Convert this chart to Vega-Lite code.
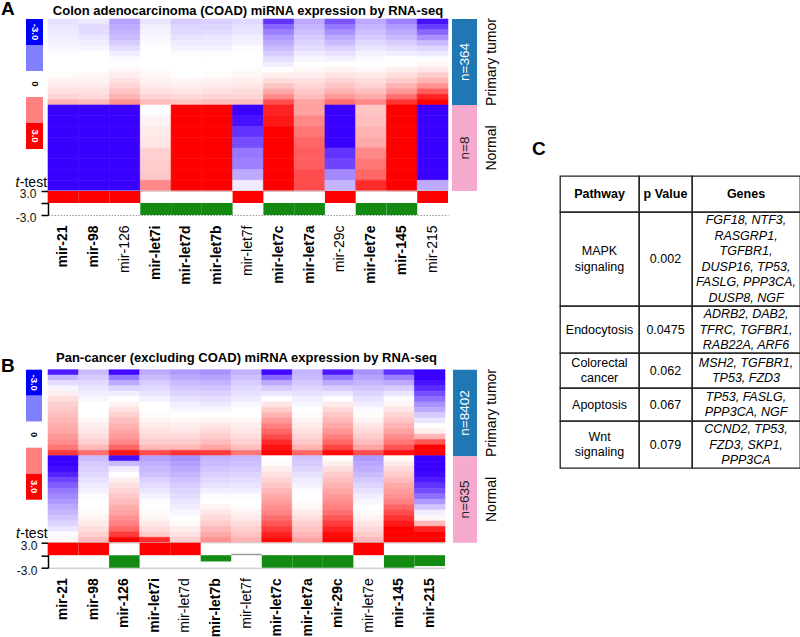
{
"$schema": "https://vega.github.io/schema/vega-lite/v6.json",
"background": "white",
"padding": {"left": 1, "top": 0, "right": 1, "bottom": 1},
"config": {"view": {"stroke": null}, "font": "Liberation Sans", "axis": {"labelFont": "Liberation Sans", "titleFont": "Liberation Sans", "grid": false}, "title": {"font": "Liberation Sans", "color": "black"}, "text": {"font": "Liberation Sans"}},
"datasets": {
"A_T": [
{"m":"mir-21","r":0,"v":-0.35},{"m":"mir-21","r":1,"v":-0.3},{"m":"mir-21","r":2,"v":-0.25},{"m":"mir-21","r":3,"v":-0.2},{"m":"mir-21","r":4,"v":-0.15},{"m":"mir-21","r":5,"v":-0.1},{"m":"mir-21","r":6,"v":-0.05},{"m":"mir-21","r":7,"v":0},{"m":"mir-21","r":8,"v":0},{"m":"mir-21","r":9,"v":0},{"m":"mir-21","r":10,"v":0.05},{"m":"mir-21","r":11,"v":0.15},{"m":"mir-21","r":12,"v":0.25},{"m":"mir-21","r":13,"v":0.35},{"m":"mir-21","r":14,"v":0.5},{"m":"mir-21","r":15,"v":0.9},
{"m":"mir-98","r":0,"v":-0.25},{"m":"mir-98","r":1,"v":-0.45},{"m":"mir-98","r":2,"v":-0.4},{"m":"mir-98","r":3,"v":-0.3},{"m":"mir-98","r":4,"v":-0.2},{"m":"mir-98","r":5,"v":-0.1},{"m":"mir-98","r":6,"v":0},{"m":"mir-98","r":7,"v":0},{"m":"mir-98","r":8,"v":0},{"m":"mir-98","r":9,"v":0},{"m":"mir-98","r":10,"v":0.1},{"m":"mir-98","r":11,"v":0.15},{"m":"mir-98","r":12,"v":0.25},{"m":"mir-98","r":13,"v":0.35},{"m":"mir-98","r":14,"v":0.45},{"m":"mir-98","r":15,"v":0.8},
{"m":"mir-126","r":0,"v":-1.1},{"m":"mir-126","r":1,"v":-1},{"m":"mir-126","r":2,"v":-0.9},{"m":"mir-126","r":3,"v":-0.8},{"m":"mir-126","r":4,"v":-0.6},{"m":"mir-126","r":5,"v":-0.4},{"m":"mir-126","r":6,"v":-0.2},{"m":"mir-126","r":7,"v":-0.05},{"m":"mir-126","r":8,"v":0},{"m":"mir-126","r":9,"v":0.1},{"m":"mir-126","r":10,"v":0.2},{"m":"mir-126","r":11,"v":0.35},{"m":"mir-126","r":12,"v":0.5},{"m":"mir-126","r":13,"v":0.7},{"m":"mir-126","r":14,"v":0.9},{"m":"mir-126","r":15,"v":1.3},
{"m":"mir-let7i","r":0,"v":-0.3},{"m":"mir-let7i","r":1,"v":-0.2},{"m":"mir-let7i","r":2,"v":-0.15},{"m":"mir-let7i","r":3,"v":-0.1},{"m":"mir-let7i","r":4,"v":-0.05},{"m":"mir-let7i","r":5,"v":0},{"m":"mir-let7i","r":6,"v":0},{"m":"mir-let7i","r":7,"v":0},{"m":"mir-let7i","r":8,"v":0},{"m":"mir-let7i","r":9,"v":0.05},{"m":"mir-let7i","r":10,"v":0.1},{"m":"mir-let7i","r":11,"v":0.15},{"m":"mir-let7i","r":12,"v":0.25},{"m":"mir-let7i","r":13,"v":0.35},{"m":"mir-let7i","r":14,"v":0.5},{"m":"mir-let7i","r":15,"v":0.8},
{"m":"mir-let7d","r":0,"v":-0.6},{"m":"mir-let7d","r":1,"v":-0.5},{"m":"mir-let7d","r":2,"v":-0.45},{"m":"mir-let7d","r":3,"v":-0.35},{"m":"mir-let7d","r":4,"v":-0.25},{"m":"mir-let7d","r":5,"v":-0.15},{"m":"mir-let7d","r":6,"v":-0.05},{"m":"mir-let7d","r":7,"v":0},{"m":"mir-let7d","r":8,"v":0},{"m":"mir-let7d","r":9,"v":0},{"m":"mir-let7d","r":10,"v":0},{"m":"mir-let7d","r":11,"v":0.1},{"m":"mir-let7d","r":12,"v":0.2},{"m":"mir-let7d","r":13,"v":0.3},{"m":"mir-let7d","r":14,"v":0.45},{"m":"mir-let7d","r":15,"v":0.7},
{"m":"mir-let7b","r":0,"v":-0.55},{"m":"mir-let7b","r":1,"v":-0.5},{"m":"mir-let7b","r":2,"v":-0.4},{"m":"mir-let7b","r":3,"v":-0.3},{"m":"mir-let7b","r":4,"v":-0.25},{"m":"mir-let7b","r":5,"v":-0.15},{"m":"mir-let7b","r":6,"v":-0.05},{"m":"mir-let7b","r":7,"v":0},{"m":"mir-let7b","r":8,"v":0},{"m":"mir-let7b","r":9,"v":0},{"m":"mir-let7b","r":10,"v":0.05},{"m":"mir-let7b","r":11,"v":0.15},{"m":"mir-let7b","r":12,"v":0.25},{"m":"mir-let7b","r":13,"v":0.35},{"m":"mir-let7b","r":14,"v":0.5},{"m":"mir-let7b","r":15,"v":0.75},
{"m":"mir-let7f","r":0,"v":-0.45},{"m":"mir-let7f","r":1,"v":-0.35},{"m":"mir-let7f","r":2,"v":-0.3},{"m":"mir-let7f","r":3,"v":-0.2},{"m":"mir-let7f","r":4,"v":-0.15},{"m":"mir-let7f","r":5,"v":-0.05},{"m":"mir-let7f","r":6,"v":0},{"m":"mir-let7f","r":7,"v":0},{"m":"mir-let7f","r":8,"v":0},{"m":"mir-let7f","r":9,"v":0.05},{"m":"mir-let7f","r":10,"v":0.1},{"m":"mir-let7f","r":11,"v":0.2},{"m":"mir-let7f","r":12,"v":0.3},{"m":"mir-let7f","r":13,"v":0.4},{"m":"mir-let7f","r":14,"v":0.5},{"m":"mir-let7f","r":15,"v":0.75},
{"m":"mir-let7c","r":0,"v":-2.4},{"m":"mir-let7c","r":1,"v":-1.8},{"m":"mir-let7c","r":2,"v":-1.5},{"m":"mir-let7c","r":3,"v":-1.2},{"m":"mir-let7c","r":4,"v":-1},{"m":"mir-let7c","r":5,"v":-0.8},{"m":"mir-let7c","r":6,"v":-0.6},{"m":"mir-let7c","r":7,"v":-0.4},{"m":"mir-let7c","r":8,"v":-0.2},{"m":"mir-let7c","r":9,"v":0},{"m":"mir-let7c","r":10,"v":0.2},{"m":"mir-let7c","r":11,"v":0.4},{"m":"mir-let7c","r":12,"v":0.7},{"m":"mir-let7c","r":13,"v":1},{"m":"mir-let7c","r":14,"v":1.4},{"m":"mir-let7c","r":15,"v":2.1},
{"m":"mir-let7a","r":0,"v":-1},{"m":"mir-let7a","r":1,"v":-0.9},{"m":"mir-let7a","r":2,"v":-0.75},{"m":"mir-let7a","r":3,"v":-0.6},{"m":"mir-let7a","r":4,"v":-0.5},{"m":"mir-let7a","r":5,"v":-0.4},{"m":"mir-let7a","r":6,"v":-0.25},{"m":"mir-let7a","r":7,"v":-0.1},{"m":"mir-let7a","r":8,"v":0},{"m":"mir-let7a","r":9,"v":0.1},{"m":"mir-let7a","r":10,"v":0.2},{"m":"mir-let7a","r":11,"v":0.35},{"m":"mir-let7a","r":12,"v":0.5},{"m":"mir-let7a","r":13,"v":0.65},{"m":"mir-let7a","r":14,"v":0.8},{"m":"mir-let7a","r":15,"v":1.1},
{"m":"mir-29c","r":0,"v":-2},{"m":"mir-29c","r":1,"v":-1.6},{"m":"mir-29c","r":2,"v":-1.3},{"m":"mir-29c","r":3,"v":-1},{"m":"mir-29c","r":4,"v":-0.8},{"m":"mir-29c","r":5,"v":-0.55},{"m":"mir-29c","r":6,"v":-0.35},{"m":"mir-29c","r":7,"v":-0.15},{"m":"mir-29c","r":8,"v":0},{"m":"mir-29c","r":9,"v":0.15},{"m":"mir-29c","r":10,"v":0.3},{"m":"mir-29c","r":11,"v":0.5},{"m":"mir-29c","r":12,"v":0.7},{"m":"mir-29c","r":13,"v":0.9},{"m":"mir-29c","r":14,"v":1.2},{"m":"mir-29c","r":15,"v":1.7},
{"m":"mir-let7e","r":0,"v":-1},{"m":"mir-let7e","r":1,"v":-0.9},{"m":"mir-let7e","r":2,"v":-0.75},{"m":"mir-let7e","r":3,"v":-0.6},{"m":"mir-let7e","r":4,"v":-0.45},{"m":"mir-let7e","r":5,"v":-0.3},{"m":"mir-let7e","r":6,"v":-0.15},{"m":"mir-let7e","r":7,"v":-0.05},{"m":"mir-let7e","r":8,"v":0},{"m":"mir-let7e","r":9,"v":0.1},{"m":"mir-let7e","r":10,"v":0.25},{"m":"mir-let7e","r":11,"v":0.4},{"m":"mir-let7e","r":12,"v":0.55},{"m":"mir-let7e","r":13,"v":0.75},{"m":"mir-let7e","r":14,"v":1},{"m":"mir-let7e","r":15,"v":1.4},
{"m":"mir-145","r":0,"v":-1.5},{"m":"mir-145","r":1,"v":-1.2},{"m":"mir-145","r":2,"v":-1},{"m":"mir-145","r":3,"v":-0.8},{"m":"mir-145","r":4,"v":-0.6},{"m":"mir-145","r":5,"v":-0.4},{"m":"mir-145","r":6,"v":-0.2},{"m":"mir-145","r":7,"v":0},{"m":"mir-145","r":8,"v":0},{"m":"mir-145","r":9,"v":0.2},{"m":"mir-145","r":10,"v":0.4},{"m":"mir-145","r":11,"v":0.6},{"m":"mir-145","r":12,"v":0.9},{"m":"mir-145","r":13,"v":1.2},{"m":"mir-145","r":14,"v":1.7},{"m":"mir-145","r":15,"v":2.4},
{"m":"mir-215","r":0,"v":-2.8},{"m":"mir-215","r":1,"v":-2.3},{"m":"mir-215","r":2,"v":-1.8},{"m":"mir-215","r":3,"v":-1.3},{"m":"mir-215","r":4,"v":-0.8},{"m":"mir-215","r":5,"v":-0.5},{"m":"mir-215","r":6,"v":-0.25},{"m":"mir-215","r":7,"v":-0.05},{"m":"mir-215","r":8,"v":0.1},{"m":"mir-215","r":9,"v":0.3},{"m":"mir-215","r":10,"v":0.6},{"m":"mir-215","r":11,"v":0.9},{"m":"mir-215","r":12,"v":1.3},{"m":"mir-215","r":13,"v":1.9},{"m":"mir-215","r":14,"v":2.6},{"m":"mir-215","r":15,"v":3}
],
"A_N": [
{"m":"mir-21","r":0,"v":-3},{"m":"mir-21","r":1,"v":-3},{"m":"mir-21","r":2,"v":-3},{"m":"mir-21","r":3,"v":-3},{"m":"mir-21","r":4,"v":-3},{"m":"mir-21","r":5,"v":-3},{"m":"mir-21","r":6,"v":-3},{"m":"mir-21","r":7,"v":-3},
{"m":"mir-98","r":0,"v":-3},{"m":"mir-98","r":1,"v":-3},{"m":"mir-98","r":2,"v":-3},{"m":"mir-98","r":3,"v":-3},{"m":"mir-98","r":4,"v":-3},{"m":"mir-98","r":5,"v":-3},{"m":"mir-98","r":6,"v":-3},{"m":"mir-98","r":7,"v":-3},
{"m":"mir-126","r":0,"v":-3},{"m":"mir-126","r":1,"v":-3},{"m":"mir-126","r":2,"v":-3},{"m":"mir-126","r":3,"v":-3},{"m":"mir-126","r":4,"v":-3},{"m":"mir-126","r":5,"v":-3},{"m":"mir-126","r":6,"v":-3},{"m":"mir-126","r":7,"v":-3},
{"m":"mir-let7i","r":0,"v":0},{"m":"mir-let7i","r":1,"v":0.15},{"m":"mir-let7i","r":2,"v":0.25},{"m":"mir-let7i","r":3,"v":0.3},{"m":"mir-let7i","r":4,"v":0.55},{"m":"mir-let7i","r":5,"v":0.6},{"m":"mir-let7i","r":6,"v":0.65},{"m":"mir-let7i","r":7,"v":1.4},
{"m":"mir-let7d","r":0,"v":3},{"m":"mir-let7d","r":1,"v":3},{"m":"mir-let7d","r":2,"v":3},{"m":"mir-let7d","r":3,"v":3},{"m":"mir-let7d","r":4,"v":3},{"m":"mir-let7d","r":5,"v":3},{"m":"mir-let7d","r":6,"v":3},{"m":"mir-let7d","r":7,"v":3},
{"m":"mir-let7b","r":0,"v":3},{"m":"mir-let7b","r":1,"v":3},{"m":"mir-let7b","r":2,"v":3},{"m":"mir-let7b","r":3,"v":3},{"m":"mir-let7b","r":4,"v":3},{"m":"mir-let7b","r":5,"v":3},{"m":"mir-let7b","r":6,"v":3},{"m":"mir-let7b","r":7,"v":3},
{"m":"mir-let7f","r":0,"v":-3},{"m":"mir-let7f","r":1,"v":-2.8},{"m":"mir-let7f","r":2,"v":-2.4},{"m":"mir-let7f","r":3,"v":-2.1},{"m":"mir-let7f","r":4,"v":-1.6},{"m":"mir-let7f","r":5,"v":-1.5},{"m":"mir-let7f","r":6,"v":-1},{"m":"mir-let7f","r":7,"v":-0.25},
{"m":"mir-let7c","r":0,"v":2.6},{"m":"mir-let7c","r":1,"v":2.7},{"m":"mir-let7c","r":2,"v":3},{"m":"mir-let7c","r":3,"v":3},{"m":"mir-let7c","r":4,"v":3},{"m":"mir-let7c","r":5,"v":3},{"m":"mir-let7c","r":6,"v":3},{"m":"mir-let7c","r":7,"v":3},
{"m":"mir-let7a","r":0,"v":1.1},{"m":"mir-let7a","r":1,"v":1.4},{"m":"mir-let7a","r":2,"v":1.6},{"m":"mir-let7a","r":3,"v":1.8},{"m":"mir-let7a","r":4,"v":1.9},{"m":"mir-let7a","r":5,"v":1.9},{"m":"mir-let7a","r":6,"v":2.1},{"m":"mir-let7a","r":7,"v":2.1},
{"m":"mir-29c","r":0,"v":-3},{"m":"mir-29c","r":1,"v":-3},{"m":"mir-29c","r":2,"v":-3},{"m":"mir-29c","r":3,"v":-3},{"m":"mir-29c","r":4,"v":-2.4},{"m":"mir-29c","r":5,"v":-2.2},{"m":"mir-29c","r":6,"v":-1.4},{"m":"mir-29c","r":7,"v":-0.9},
{"m":"mir-let7e","r":0,"v":0.7},{"m":"mir-let7e","r":1,"v":0.75},{"m":"mir-let7e","r":2,"v":0.9},{"m":"mir-let7e","r":3,"v":1},{"m":"mir-let7e","r":4,"v":1.4},{"m":"mir-let7e","r":5,"v":1.6},{"m":"mir-let7e","r":6,"v":1.8},{"m":"mir-let7e","r":7,"v":2.5},
{"m":"mir-145","r":0,"v":3},{"m":"mir-145","r":1,"v":3},{"m":"mir-145","r":2,"v":3},{"m":"mir-145","r":3,"v":3},{"m":"mir-145","r":4,"v":3},{"m":"mir-145","r":5,"v":3},{"m":"mir-145","r":6,"v":3},{"m":"mir-145","r":7,"v":3},
{"m":"mir-215","r":0,"v":-3},{"m":"mir-215","r":1,"v":-3},{"m":"mir-215","r":2,"v":-3},{"m":"mir-215","r":3,"v":-3},{"m":"mir-215","r":4,"v":-3},{"m":"mir-215","r":5,"v":-3},{"m":"mir-215","r":6,"v":-3},{"m":"mir-215","r":7,"v":-1}
],
"B_T": [
{"m":"mir-21","r":0,"v":-2.7},{"m":"mir-21","r":1,"v":-0.9},{"m":"mir-21","r":2,"v":-0.4},{"m":"mir-21","r":3,"v":-0.1},{"m":"mir-21","r":4,"v":0.2},{"m":"mir-21","r":5,"v":0.4},{"m":"mir-21","r":6,"v":0.55},{"m":"mir-21","r":7,"v":0.65},{"m":"mir-21","r":8,"v":0.75},{"m":"mir-21","r":9,"v":0.85},{"m":"mir-21","r":10,"v":0.95},{"m":"mir-21","r":11,"v":1.05},{"m":"mir-21","r":12,"v":1.2},{"m":"mir-21","r":13,"v":1.35},{"m":"mir-21","r":14,"v":1.6},{"m":"mir-21","r":15,"v":2.3},
{"m":"mir-98","r":0,"v":-0.8},{"m":"mir-98","r":1,"v":-0.6},{"m":"mir-98","r":2,"v":-0.45},{"m":"mir-98","r":3,"v":-0.3},{"m":"mir-98","r":4,"v":-0.2},{"m":"mir-98","r":5,"v":-0.1},{"m":"mir-98","r":6,"v":0},{"m":"mir-98","r":7,"v":0},{"m":"mir-98","r":8,"v":0},{"m":"mir-98","r":9,"v":0.1},{"m":"mir-98","r":10,"v":0.2},{"m":"mir-98","r":11,"v":0.3},{"m":"mir-98","r":12,"v":0.4},{"m":"mir-98","r":13,"v":0.55},{"m":"mir-98","r":14,"v":0.8},{"m":"mir-98","r":15,"v":1.7},
{"m":"mir-126","r":0,"v":-2.9},{"m":"mir-126","r":1,"v":-1.6},{"m":"mir-126","r":2,"v":-1},{"m":"mir-126","r":3,"v":-0.5},{"m":"mir-126","r":4,"v":-0.2},{"m":"mir-126","r":5,"v":0},{"m":"mir-126","r":6,"v":0.15},{"m":"mir-126","r":7,"v":0.35},{"m":"mir-126","r":8,"v":0.55},{"m":"mir-126","r":9,"v":0.75},{"m":"mir-126","r":10,"v":0.9},{"m":"mir-126","r":11,"v":1.05},{"m":"mir-126","r":12,"v":1.2},{"m":"mir-126","r":13,"v":1.4},{"m":"mir-126","r":14,"v":1.8},{"m":"mir-126","r":15,"v":2.7},
{"m":"mir-let7i","r":0,"v":-1},{"m":"mir-let7i","r":1,"v":-0.8},{"m":"mir-let7i","r":2,"v":-0.6},{"m":"mir-let7i","r":3,"v":-0.45},{"m":"mir-let7i","r":4,"v":-0.3},{"m":"mir-let7i","r":5,"v":-0.15},{"m":"mir-let7i","r":6,"v":0},{"m":"mir-let7i","r":7,"v":0},{"m":"mir-let7i","r":8,"v":0.05},{"m":"mir-let7i","r":9,"v":0.15},{"m":"mir-let7i","r":10,"v":0.25},{"m":"mir-let7i","r":11,"v":0.35},{"m":"mir-let7i","r":12,"v":0.45},{"m":"mir-let7i","r":13,"v":0.6},{"m":"mir-let7i","r":14,"v":0.85},{"m":"mir-let7i","r":15,"v":2.1},
{"m":"mir-let7d","r":0,"v":-1.2},{"m":"mir-let7d","r":1,"v":-1},{"m":"mir-let7d","r":2,"v":-0.8},{"m":"mir-let7d","r":3,"v":-0.65},{"m":"mir-let7d","r":4,"v":-0.5},{"m":"mir-let7d","r":5,"v":-0.35},{"m":"mir-let7d","r":6,"v":-0.2},{"m":"mir-let7d","r":7,"v":-0.1},{"m":"mir-let7d","r":8,"v":0},{"m":"mir-let7d","r":9,"v":0.1},{"m":"mir-let7d","r":10,"v":0.2},{"m":"mir-let7d","r":11,"v":0.3},{"m":"mir-let7d","r":12,"v":0.45},{"m":"mir-let7d","r":13,"v":0.6},{"m":"mir-let7d","r":14,"v":0.85},{"m":"mir-let7d","r":15,"v":2.4},
{"m":"mir-let7b","r":0,"v":-1.3},{"m":"mir-let7b","r":1,"v":-1.1},{"m":"mir-let7b","r":2,"v":-0.9},{"m":"mir-let7b","r":3,"v":-0.7},{"m":"mir-let7b","r":4,"v":-0.55},{"m":"mir-let7b","r":5,"v":-0.4},{"m":"mir-let7b","r":6,"v":-0.25},{"m":"mir-let7b","r":7,"v":-0.1},{"m":"mir-let7b","r":8,"v":0},{"m":"mir-let7b","r":9,"v":0.15},{"m":"mir-let7b","r":10,"v":0.3},{"m":"mir-let7b","r":11,"v":0.45},{"m":"mir-let7b","r":12,"v":0.6},{"m":"mir-let7b","r":13,"v":0.8},{"m":"mir-let7b","r":14,"v":1.05},{"m":"mir-let7b","r":15,"v":2.3},
{"m":"mir-let7f","r":0,"v":-0.9},{"m":"mir-let7f","r":1,"v":-0.75},{"m":"mir-let7f","r":2,"v":-0.6},{"m":"mir-let7f","r":3,"v":-0.45},{"m":"mir-let7f","r":4,"v":-0.35},{"m":"mir-let7f","r":5,"v":-0.25},{"m":"mir-let7f","r":6,"v":-0.1},{"m":"mir-let7f","r":7,"v":0},{"m":"mir-let7f","r":8,"v":0},{"m":"mir-let7f","r":9,"v":0.1},{"m":"mir-let7f","r":10,"v":0.2},{"m":"mir-let7f","r":11,"v":0.3},{"m":"mir-let7f","r":12,"v":0.4},{"m":"mir-let7f","r":13,"v":0.55},{"m":"mir-let7f","r":14,"v":0.75},{"m":"mir-let7f","r":15,"v":1.6},
{"m":"mir-let7c","r":0,"v":-2.9},{"m":"mir-let7c","r":1,"v":-1.8},{"m":"mir-let7c","r":2,"v":-1},{"m":"mir-let7c","r":3,"v":-0.6},{"m":"mir-let7c","r":4,"v":-0.3},{"m":"mir-let7c","r":5,"v":0},{"m":"mir-let7c","r":6,"v":0.3},{"m":"mir-let7c","r":7,"v":0.6},{"m":"mir-let7c","r":8,"v":0.9},{"m":"mir-let7c","r":9,"v":1.2},{"m":"mir-let7c","r":10,"v":1.5},{"m":"mir-let7c","r":11,"v":1.8},{"m":"mir-let7c","r":12,"v":2.1},{"m":"mir-let7c","r":13,"v":2.5},{"m":"mir-let7c","r":14,"v":2.8},{"m":"mir-let7c","r":15,"v":3},
{"m":"mir-let7a","r":0,"v":-0.9},{"m":"mir-let7a","r":1,"v":-0.8},{"m":"mir-let7a","r":2,"v":-0.65},{"m":"mir-let7a","r":3,"v":-0.5},{"m":"mir-let7a","r":4,"v":-0.35},{"m":"mir-let7a","r":5,"v":-0.2},{"m":"mir-let7a","r":6,"v":-0.1},{"m":"mir-let7a","r":7,"v":0},{"m":"mir-let7a","r":8,"v":0.05},{"m":"mir-let7a","r":9,"v":0.15},{"m":"mir-let7a","r":10,"v":0.25},{"m":"mir-let7a","r":11,"v":0.35},{"m":"mir-let7a","r":12,"v":0.5},{"m":"mir-let7a","r":13,"v":0.65},{"m":"mir-let7a","r":14,"v":0.9},{"m":"mir-let7a","r":15,"v":1.8},
{"m":"mir-29c","r":0,"v":-2.7},{"m":"mir-29c","r":1,"v":-1.6},{"m":"mir-29c","r":2,"v":-1},{"m":"mir-29c","r":3,"v":-0.6},{"m":"mir-29c","r":4,"v":-0.3},{"m":"mir-29c","r":5,"v":0},{"m":"mir-29c","r":6,"v":0.25},{"m":"mir-29c","r":7,"v":0.45},{"m":"mir-29c","r":8,"v":0.65},{"m":"mir-29c","r":9,"v":0.85},{"m":"mir-29c","r":10,"v":1.05},{"m":"mir-29c","r":11,"v":1.25},{"m":"mir-29c","r":12,"v":1.5},{"m":"mir-29c","r":13,"v":1.8},{"m":"mir-29c","r":14,"v":2.2},{"m":"mir-29c","r":15,"v":2.9},
{"m":"mir-let7e","r":0,"v":-1.3},{"m":"mir-let7e","r":1,"v":-1.1},{"m":"mir-let7e","r":2,"v":-0.9},{"m":"mir-let7e","r":3,"v":-0.7},{"m":"mir-let7e","r":4,"v":-0.5},{"m":"mir-let7e","r":5,"v":-0.35},{"m":"mir-let7e","r":6,"v":-0.2},{"m":"mir-let7e","r":7,"v":-0.05},{"m":"mir-let7e","r":8,"v":0.05},{"m":"mir-let7e","r":9,"v":0.15},{"m":"mir-let7e","r":10,"v":0.3},{"m":"mir-let7e","r":11,"v":0.45},{"m":"mir-let7e","r":12,"v":0.6},{"m":"mir-let7e","r":13,"v":0.8},{"m":"mir-let7e","r":14,"v":1.05},{"m":"mir-let7e","r":15,"v":2.1},
{"m":"mir-145","r":0,"v":-2.4},{"m":"mir-145","r":1,"v":-1.5},{"m":"mir-145","r":2,"v":-1},{"m":"mir-145","r":3,"v":-0.6},{"m":"mir-145","r":4,"v":-0.3},{"m":"mir-145","r":5,"v":-0.05},{"m":"mir-145","r":6,"v":0.1},{"m":"mir-145","r":7,"v":0.3},{"m":"mir-145","r":8,"v":0.5},{"m":"mir-145","r":9,"v":0.7},{"m":"mir-145","r":10,"v":0.9},{"m":"mir-145","r":11,"v":1.1},{"m":"mir-145","r":12,"v":1.35},{"m":"mir-145","r":13,"v":1.6},{"m":"mir-145","r":14,"v":2},{"m":"mir-145","r":15,"v":2.8},
{"m":"mir-215","r":0,"v":-3},{"m":"mir-215","r":1,"v":-3},{"m":"mir-215","r":2,"v":-2.8},{"m":"mir-215","r":3,"v":-2.5},{"m":"mir-215","r":4,"v":-2.1},{"m":"mir-215","r":5,"v":-1.7},{"m":"mir-215","r":6,"v":-1.3},{"m":"mir-215","r":7,"v":-1},{"m":"mir-215","r":8,"v":-0.6},{"m":"mir-215","r":9,"v":-0.3},{"m":"mir-215","r":10,"v":0},{"m":"mir-215","r":11,"v":0.2},{"m":"mir-215","r":12,"v":0.9},{"m":"mir-215","r":13,"v":2},{"m":"mir-215","r":14,"v":3},{"m":"mir-215","r":15,"v":3}
],
"B_N": [
{"m":"mir-21","r":0,"v":-3},{"m":"mir-21","r":1,"v":-3},{"m":"mir-21","r":2,"v":-2.9},{"m":"mir-21","r":3,"v":-2.6},{"m":"mir-21","r":4,"v":-2.2},{"m":"mir-21","r":5,"v":-1.9},{"m":"mir-21","r":6,"v":-1.6},{"m":"mir-21","r":7,"v":-1.4},{"m":"mir-21","r":8,"v":-1.2},{"m":"mir-21","r":9,"v":-1},{"m":"mir-21","r":10,"v":-0.85},{"m":"mir-21","r":11,"v":-0.7},{"m":"mir-21","r":12,"v":-0.5},{"m":"mir-21","r":13,"v":-0.3},{"m":"mir-21","r":14,"v":-0.05},{"m":"mir-21","r":15,"v":0.1},
{"m":"mir-98","r":0,"v":-0.8},{"m":"mir-98","r":1,"v":-0.65},{"m":"mir-98","r":2,"v":-0.55},{"m":"mir-98","r":3,"v":-0.45},{"m":"mir-98","r":4,"v":-0.35},{"m":"mir-98","r":5,"v":-0.25},{"m":"mir-98","r":6,"v":-0.15},{"m":"mir-98","r":7,"v":-0.05},{"m":"mir-98","r":8,"v":0},{"m":"mir-98","r":9,"v":0},{"m":"mir-98","r":10,"v":0.05},{"m":"mir-98","r":11,"v":0.15},{"m":"mir-98","r":12,"v":0.25},{"m":"mir-98","r":13,"v":0.4},{"m":"mir-98","r":14,"v":0.55},{"m":"mir-98","r":15,"v":0.8},
{"m":"mir-126","r":0,"v":-2.8},{"m":"mir-126","r":1,"v":-0.8},{"m":"mir-126","r":2,"v":-0.2},{"m":"mir-126","r":3,"v":0},{"m":"mir-126","r":4,"v":0.2},{"m":"mir-126","r":5,"v":0.35},{"m":"mir-126","r":6,"v":0.5},{"m":"mir-126","r":7,"v":0.65},{"m":"mir-126","r":8,"v":0.8},{"m":"mir-126","r":9,"v":0.95},{"m":"mir-126","r":10,"v":1.1},{"m":"mir-126","r":11,"v":1.3},{"m":"mir-126","r":12,"v":1.5},{"m":"mir-126","r":13,"v":1.8},{"m":"mir-126","r":14,"v":2.3},{"m":"mir-126","r":15,"v":3},
{"m":"mir-let7i","r":0,"v":-1.1},{"m":"mir-let7i","r":1,"v":-0.95},{"m":"mir-let7i","r":2,"v":-0.85},{"m":"mir-let7i","r":3,"v":-0.75},{"m":"mir-let7i","r":4,"v":-0.55},{"m":"mir-let7i","r":5,"v":-0.4},{"m":"mir-let7i","r":6,"v":-0.3},{"m":"mir-let7i","r":7,"v":-0.15},{"m":"mir-let7i","r":8,"v":-0.05},{"m":"mir-let7i","r":9,"v":0},{"m":"mir-let7i","r":10,"v":0.05},{"m":"mir-let7i","r":11,"v":0.1},{"m":"mir-let7i","r":12,"v":0.25},{"m":"mir-let7i","r":13,"v":0.4},{"m":"mir-let7i","r":14,"v":0.6},{"m":"mir-let7i","r":15,"v":2.5},
{"m":"mir-let7d","r":0,"v":-1.3},{"m":"mir-let7d","r":1,"v":-1.15},{"m":"mir-let7d","r":2,"v":-1},{"m":"mir-let7d","r":3,"v":-0.9},{"m":"mir-let7d","r":4,"v":-0.75},{"m":"mir-let7d","r":5,"v":-0.6},{"m":"mir-let7d","r":6,"v":-0.5},{"m":"mir-let7d","r":7,"v":-0.4},{"m":"mir-let7d","r":8,"v":-0.3},{"m":"mir-let7d","r":9,"v":-0.2},{"m":"mir-let7d","r":10,"v":-0.1},{"m":"mir-let7d","r":11,"v":0},{"m":"mir-let7d","r":12,"v":0.05},{"m":"mir-let7d","r":13,"v":0.2},{"m":"mir-let7d","r":14,"v":0.35},{"m":"mir-let7d","r":15,"v":0.55},
{"m":"mir-let7b","r":0,"v":-0.9},{"m":"mir-let7b","r":1,"v":-0.8},{"m":"mir-let7b","r":2,"v":-0.7},{"m":"mir-let7b","r":3,"v":-0.55},{"m":"mir-let7b","r":4,"v":-0.45},{"m":"mir-let7b","r":5,"v":-0.35},{"m":"mir-let7b","r":6,"v":-0.2},{"m":"mir-let7b","r":7,"v":-0.05},{"m":"mir-let7b","r":8,"v":0},{"m":"mir-let7b","r":9,"v":0.15},{"m":"mir-let7b","r":10,"v":0.3},{"m":"mir-let7b","r":11,"v":0.45},{"m":"mir-let7b","r":12,"v":0.6},{"m":"mir-let7b","r":13,"v":0.8},{"m":"mir-let7b","r":14,"v":1},{"m":"mir-let7b","r":15,"v":1.3},
{"m":"mir-let7f","r":0,"v":-0.85},{"m":"mir-let7f","r":1,"v":-0.75},{"m":"mir-let7f","r":2,"v":-0.65},{"m":"mir-let7f","r":3,"v":-0.5},{"m":"mir-let7f","r":4,"v":-0.4},{"m":"mir-let7f","r":5,"v":-0.3},{"m":"mir-let7f","r":6,"v":-0.2},{"m":"mir-let7f","r":7,"v":-0.05},{"m":"mir-let7f","r":8,"v":0},{"m":"mir-let7f","r":9,"v":0.05},{"m":"mir-let7f","r":10,"v":0.15},{"m":"mir-let7f","r":11,"v":0.25},{"m":"mir-let7f","r":12,"v":0.4},{"m":"mir-let7f","r":13,"v":0.55},{"m":"mir-let7f","r":14,"v":0.7},{"m":"mir-let7f","r":15,"v":0.9},
{"m":"mir-let7c","r":0,"v":0},{"m":"mir-let7c","r":1,"v":0.05},{"m":"mir-let7c","r":2,"v":0.2},{"m":"mir-let7c","r":3,"v":0.35},{"m":"mir-let7c","r":4,"v":0.5},{"m":"mir-let7c","r":5,"v":0.65},{"m":"mir-let7c","r":6,"v":0.85},{"m":"mir-let7c","r":7,"v":1},{"m":"mir-let7c","r":8,"v":1.15},{"m":"mir-let7c","r":9,"v":1.3},{"m":"mir-let7c","r":10,"v":1.45},{"m":"mir-let7c","r":11,"v":1.7},{"m":"mir-let7c","r":12,"v":2},{"m":"mir-let7c","r":13,"v":2.3},{"m":"mir-let7c","r":14,"v":2.6},{"m":"mir-let7c","r":15,"v":2.9},
{"m":"mir-let7a","r":0,"v":-0.7},{"m":"mir-let7a","r":1,"v":-0.6},{"m":"mir-let7a","r":2,"v":-0.5},{"m":"mir-let7a","r":3,"v":-0.35},{"m":"mir-let7a","r":4,"v":-0.25},{"m":"mir-let7a","r":5,"v":-0.15},{"m":"mir-let7a","r":6,"v":-0.05},{"m":"mir-let7a","r":7,"v":0},{"m":"mir-let7a","r":8,"v":0.05},{"m":"mir-let7a","r":9,"v":0.1},{"m":"mir-let7a","r":10,"v":0.25},{"m":"mir-let7a","r":11,"v":0.4},{"m":"mir-let7a","r":12,"v":0.55},{"m":"mir-let7a","r":13,"v":0.7},{"m":"mir-let7a","r":14,"v":0.85},{"m":"mir-let7a","r":15,"v":1.1},
{"m":"mir-29c","r":0,"v":0},{"m":"mir-29c","r":1,"v":0.2},{"m":"mir-29c","r":2,"v":0.4},{"m":"mir-29c","r":3,"v":0.6},{"m":"mir-29c","r":4,"v":0.75},{"m":"mir-29c","r":5,"v":0.9},{"m":"mir-29c","r":6,"v":1.05},{"m":"mir-29c","r":7,"v":1.2},{"m":"mir-29c","r":8,"v":1.35},{"m":"mir-29c","r":9,"v":1.5},{"m":"mir-29c","r":10,"v":1.7},{"m":"mir-29c","r":11,"v":2},{"m":"mir-29c","r":12,"v":2.3},{"m":"mir-29c","r":13,"v":2.6},{"m":"mir-29c","r":14,"v":2.9},{"m":"mir-29c","r":15,"v":3},
{"m":"mir-let7e","r":0,"v":-1.2},{"m":"mir-let7e","r":1,"v":-1.05},{"m":"mir-let7e","r":2,"v":-0.95},{"m":"mir-let7e","r":3,"v":-0.8},{"m":"mir-let7e","r":4,"v":-0.65},{"m":"mir-let7e","r":5,"v":-0.5},{"m":"mir-let7e","r":6,"v":-0.35},{"m":"mir-let7e","r":7,"v":-0.2},{"m":"mir-let7e","r":8,"v":-0.1},{"m":"mir-let7e","r":9,"v":0},{"m":"mir-let7e","r":10,"v":0.05},{"m":"mir-let7e","r":11,"v":0.15},{"m":"mir-let7e","r":12,"v":0.3},{"m":"mir-let7e","r":13,"v":0.45},{"m":"mir-let7e","r":14,"v":0.6},{"m":"mir-let7e","r":15,"v":0.8},
{"m":"mir-145","r":0,"v":0.05},{"m":"mir-145","r":1,"v":0.25},{"m":"mir-145","r":2,"v":0.45},{"m":"mir-145","r":3,"v":0.6},{"m":"mir-145","r":4,"v":0.8},{"m":"mir-145","r":5,"v":1},{"m":"mir-145","r":6,"v":1.15},{"m":"mir-145","r":7,"v":1.3},{"m":"mir-145","r":8,"v":1.5},{"m":"mir-145","r":9,"v":1.8},{"m":"mir-145","r":10,"v":2.1},{"m":"mir-145","r":11,"v":2.4},{"m":"mir-145","r":12,"v":2.7},{"m":"mir-145","r":13,"v":3},{"m":"mir-145","r":14,"v":3},{"m":"mir-145","r":15,"v":3},
{"m":"mir-215","r":0,"v":-3},{"m":"mir-215","r":1,"v":-3},{"m":"mir-215","r":2,"v":-3},{"m":"mir-215","r":3,"v":-2.9},{"m":"mir-215","r":4,"v":-2.7},{"m":"mir-215","r":5,"v":-2.4},{"m":"mir-215","r":6,"v":-2.1},{"m":"mir-215","r":7,"v":-1.7},{"m":"mir-215","r":8,"v":-1.2},{"m":"mir-215","r":9,"v":-0.7},{"m":"mir-215","r":10,"v":-0.2},{"m":"mir-215","r":11,"v":0.1},{"m":"mir-215","r":12,"v":0.8},{"m":"mir-215","r":13,"v":2.6},{"m":"mir-215","r":14,"v":3},{"m":"mir-215","r":15,"v":3}
],
"ttA": [{"m":"mir-21","t":3},{"m":"mir-98","t":3},{"m":"mir-126","t":3},{"m":"mir-let7i","t":-3},{"m":"mir-let7d","t":-3},{"m":"mir-let7b","t":-3},{"m":"mir-let7f","t":3},{"m":"mir-let7c","t":-3},{"m":"mir-let7a","t":-3},{"m":"mir-29c","t":3},{"m":"mir-let7e","t":-3},{"m":"mir-145","t":-3},{"m":"mir-215","t":3}],
"ttB": [{"m":"mir-21","t":3},{"m":"mir-98","t":3},{"m":"mir-126","t":-3},{"m":"mir-let7i","t":3},{"m":"mir-let7d","t":3},{"m":"mir-let7b","t":-1.5},{"m":"mir-let7f","t":0.35},{"m":"mir-let7c","t":-3},{"m":"mir-let7a","t":-3},{"m":"mir-29c","t":-3},{"m":"mir-let7e","t":3},{"m":"mir-145","t":-3},{"m":"mir-215","t":-2.6}],
"scaleKey": [{"k":"-3.0","v":-3},{"k":"-1.5","v":-1.5},{"k":"0","v":0},{"k":"1.5","v":1.5},{"k":"3.0","v":3}],
"tbl": [
{"r":"h","c":"P","t":["Pathway"]},{"r":"h","c":"V","t":["p Value"]},{"r":"h","c":"G","t":["Genes"]},
{"r":"MAPK","c":"P","t":["MAPK","signaling"]},{"r":"MAPK","c":"V","t":["0.002"]},{"r":"MAPK","c":"G","t":["FGF18, NTF3,","RASGRP1,","TGFBR1,","DUSP16, TP53,","FASLG, PPP3CA,","DUSP8, NGF"]},
{"r":"Endo","c":"P","t":["Endocytosis"]},{"r":"Endo","c":"V","t":["0.0475"]},{"r":"Endo","c":"G","t":["ADRB2, DAB2,","TFRC, TGFBR1,","RAB22A, ARF6"]},
{"r":"Colo","c":"P","t":["Colorectal","cancer"]},{"r":"Colo","c":"V","t":["0.062"]},{"r":"Colo","c":"G","t":["MSH2, TGFBR1,","TP53, FZD3"]},
{"r":"Apop","c":"P","t":["Apoptosis"]},{"r":"Apop","c":"V","t":["0.067"]},{"r":"Apop","c":"G","t":["TP53, FASLG,","PPP3CA, NGF"]},
{"r":"Wnt","c":"P","t":["Wnt","signaling"]},{"r":"Wnt","c":"V","t":["0.079"]},{"r":"Wnt","c":"G","t":["CCND2, TP53,","FZD3, SKP1,","PPP3CA"]}
]
},
"bounds": "full",
"spacing": 33,
"hconcat": [
{"bounds": "full", "spacing": 66.7, "vconcat": [
 {"bounds": "full", "spacing": -28, "hconcat": [
  {"width": 17, "height": 130, "data": {"name": "scaleKey"},
   "title": {"text": "A", "anchor": "start", "dx": -25, "offset": -15, "fontSize": 19, "fontWeight": "bold", "baseline": "alphabetic"},
   "layer": [
    {"mark": "rect", "encoding": {"y": {"field": "k", "type": "ordinal", "scale": {"domain": ["-3.0","-1.5","0","1.5","3.0"], "paddingInner": 0, "paddingOuter": 0}, "axis": null}, "fill": {"field": "v", "type": "quantitative", "scale": {"domain": [-3,0,3], "range": ["#0000ff","#ffffff","#ff0000"], "interpolate": "rgb"}, "legend": null}}},
    {"transform": [{"filter": "abs(datum.v) != 1.5"}], "mark": {"type": "text", "angle": 90, "fontSize": 9.5, "fontWeight": "bold"}, "encoding": {"y": {"field": "k", "type": "ordinal"}, "text": {"field": "k"}, "color": {"condition": {"test": "datum.v == 0", "value": "black"}, "value": "white"}}}
   ]},
  {"bounds": "full", "spacing": 3, "hconcat": [
   {"bounds": "flush", "spacing": 0, "vconcat": [
    {"width": 400, "height": 86, "data": {"name": "A_T"},
     "title": {"text": "Colon adenocarcinoma (COAD) miRNA expression by RNA-seq", "fontSize": 13, "fontWeight": "bold", "anchor": "middle", "baseline": "alphabetic", "offset": -9},
     "mark": {"type": "rect", "strokeWidth": 0.6},
     "encoding": {
      "x": {"field": "m", "type": "nominal", "scale": {"domain": ["mir-21","mir-98","mir-126","mir-let7i","mir-let7d","mir-let7b","mir-let7f","mir-let7c","mir-let7a","mir-29c","mir-let7e","mir-145","mir-215"], "paddingInner": 0, "paddingOuter": 0}, "axis": null},
      "y": {"field": "r", "type": "ordinal", "scale": {"paddingInner": 0, "paddingOuter": 0}, "axis": null},
      "color": {"field": "v", "type": "quantitative", "scale": {"domain": [-3,0,3], "range": ["#3a00ff","#ffffff","#ff0000"], "clamp": true, "interpolate": "rgb"}, "legend": null},
      "stroke": {"field": "v", "type": "quantitative", "scale": {"domain": [-3,0,3], "range": ["#3a00ff","#ffffff","#ff0000"], "clamp": true, "interpolate": "rgb"}, "legend": null}}},
    {"width": 400, "height": 86, "data": {"name": "A_N"},
     "mark": {"type": "rect", "strokeWidth": 0.6},
     "encoding": {
      "x": {"field": "m", "type": "nominal", "scale": {"domain": ["mir-21","mir-98","mir-126","mir-let7i","mir-let7d","mir-let7b","mir-let7f","mir-let7c","mir-let7a","mir-29c","mir-let7e","mir-145","mir-215"], "paddingInner": 0, "paddingOuter": 0}, "axis": null},
      "y": {"field": "r", "type": "ordinal", "scale": {"paddingInner": 0, "paddingOuter": 0}, "axis": null},
      "color": {"field": "v", "type": "quantitative", "scale": {"domain": [-3,0,3], "range": ["#3a00ff","#ffffff","#ff0000"], "clamp": true, "interpolate": "rgb"}, "legend": null},
      "stroke": {"field": "v", "type": "quantitative", "scale": {"domain": [-3,0,3], "range": ["#3a00ff","#ffffff","#ff0000"], "clamp": true, "interpolate": "rgb"}, "legend": null}}},
    {"width": 400, "height": 24, "data": {"name": "ttA"},
     "layer": [
      {"data": {"values": [{"top": 3}]}, "mark": {"type": "rule", "color": "#cccccc", "strokeWidth": 1},
       "encoding": {"y": {"field": "top", "type": "quantitative", "scale": {"domain": [-3,3]}, "axis": {"orient": "left", "domain": false, "ticks": false, "labels": false, "grid": false, "title": "-test", "titleFontWeight": "normal", "titleFontSize": 14, "titleAngle": 0, "titleAlign": "left", "titleBaseline": "alphabetic", "titleX": -28.7, "titleY": -4.5, "titleColor": "black"}}}},
      {"mark": "bar",
       "encoding": {
        "x": {"field": "m", "type": "nominal", "scale": {"domain": ["mir-21","mir-98","mir-126","mir-let7i","mir-let7d","mir-let7b","mir-let7f","mir-let7c","mir-let7a","mir-29c","mir-let7e","mir-145","mir-215"], "paddingInner": 0, "paddingOuter": 0},
         "axis": {"title": null, "labelAngle": -90, "labelAlign": "right", "labelBaseline": "middle", "labelFontSize": 14, "labelColor": "black", "labelPadding": 10, "ticks": false, "tickSize": 0, "domainColor": "#999999", "domainDash": [1.5, 1.5], "domainWidth": 1, "labelLimit": 200,
          "labelFontWeight": {"condition": {"test": "indexof(['mir-126','mir-let7f','mir-29c','mir-215'], datum.value) >= 0", "value": "normal"}, "value": "bold"}}},
        "y": {"field": "t", "type": "quantitative", "scale": {"domain": [-3,3]},
         "axis": {"orient": "left", "values": [3, 0, -3], "labelExpr": "datum.value == 3 ? '3.0' : datum.value == -3 ? '-3.0' : ''", "labelOverlap": false, "tickSize": 7, "tickWidth": 1.5, "tickColor": "black", "domainColor": "black", "domainWidth": 1.5, "labelFontSize": 12, "labelPadding": 5, "labelColor": "#111111", "labelOffset": 2.5, "labelFlush": false, "labelBaseline": "middle", "title": "t", "titleFontStyle": "italic", "titleFontWeight": "normal", "titleFontSize": 14, "titleAngle": 0, "titleAlign": "left", "titleBaseline": "alphabetic", "titleX": -33, "titleY": -4.5, "titleColor": "black"}},
        "y2": {"datum": 0},
        "color": {"condition": [{"test": "datum.t >= 1", "value": "#ff0000"}, {"test": "datum.t <= -1", "value": "#138b13"}], "value": "#999999"}}}
     ],
     "resolve": {"scale": {"y": "independent"}, "axis": {"y": "independent"}}}
   ]},
   {"width": 25, "height": 172, "data": {"values": [{"g": "Primary tumor", "n": "n=364"}, {"g": "Normal", "n": "n=8"}]},
    "layer": [
     {"mark": "rect", "encoding": {"y": {"field": "g", "type": "nominal", "scale": {"domain": ["Primary tumor","Normal"], "paddingInner": 0, "paddingOuter": 0}, "axis": {"orient": "right", "title": null, "ticks": false, "domain": false, "labelAngle": -90, "labelAlign": "center", "labelBaseline": "top", "labelFontSize": 14, "labelPadding": 7, "labelColor": "black"}}, "color": {"condition": {"test": "datum.g == 'Normal'", "value": "#f5a9cc"}, "value": "#1f77b4"}}},
     {"mark": {"type": "text", "angle": -90, "fontSize": 13.5}, "encoding": {"y": {"field": "g", "type": "nominal"}, "text": {"field": "n"}, "color": {"condition": {"test": "datum.g == 'Normal'", "value": "#222222"}, "value": "white"}}}
    ]}
  ]}
 ]},
 {"bounds": "full", "spacing": -27, "hconcat": [
  {"width": 16, "height": 130, "data": {"name": "scaleKey"},
   "title": {"text": "B", "anchor": "start", "dx": -25, "offset": -21, "fontSize": 19, "fontWeight": "bold", "baseline": "alphabetic"},
   "layer": [
    {"mark": "rect", "encoding": {"y": {"field": "k", "type": "ordinal", "scale": {"domain": ["-3.0","-1.5","0","1.5","3.0"], "paddingInner": 0, "paddingOuter": 0}, "axis": null}, "fill": {"field": "v", "type": "quantitative", "scale": {"domain": [-3,0,3], "range": ["#0000ff","#ffffff","#ff0000"], "interpolate": "rgb"}, "legend": null}}},
    {"transform": [{"filter": "abs(datum.v) != 1.5"}], "mark": {"type": "text", "angle": 90, "fontSize": 9.5, "fontWeight": "bold"}, "encoding": {"y": {"field": "k", "type": "ordinal"}, "text": {"field": "k"}, "color": {"condition": {"test": "datum.v == 0", "value": "black"}, "value": "white"}}}
   ]},
  {"bounds": "full", "spacing": 7, "hconcat": [
   {"bounds": "flush", "spacing": 0, "vconcat": [
    {"width": 397, "height": 86, "data": {"name": "B_T"},
     "title": {"text": "Pan-cancer (excluding COAD) miRNA expression by RNA-seq", "fontSize": 13, "fontWeight": "bold", "anchor": "middle", "baseline": "alphabetic", "offset": -5.7},
     "mark": {"type": "rect", "strokeWidth": 0.6},
     "encoding": {
      "x": {"field": "m", "type": "nominal", "scale": {"domain": ["mir-21","mir-98","mir-126","mir-let7i","mir-let7d","mir-let7b","mir-let7f","mir-let7c","mir-let7a","mir-29c","mir-let7e","mir-145","mir-215"], "paddingInner": 0, "paddingOuter": 0}, "axis": null},
      "y": {"field": "r", "type": "ordinal", "scale": {"paddingInner": 0, "paddingOuter": 0}, "axis": null},
      "color": {"field": "v", "type": "quantitative", "scale": {"domain": [-3,0,3], "range": ["#3a00ff","#ffffff","#ff0000"], "clamp": true, "interpolate": "rgb"}, "legend": null},
      "stroke": {"field": "v", "type": "quantitative", "scale": {"domain": [-3,0,3], "range": ["#3a00ff","#ffffff","#ff0000"], "clamp": true, "interpolate": "rgb"}, "legend": null}}},
    {"width": 397, "height": 87, "data": {"name": "B_N"},
     "mark": {"type": "rect", "strokeWidth": 0.6},
     "encoding": {
      "x": {"field": "m", "type": "nominal", "scale": {"domain": ["mir-21","mir-98","mir-126","mir-let7i","mir-let7d","mir-let7b","mir-let7f","mir-let7c","mir-let7a","mir-29c","mir-let7e","mir-145","mir-215"], "paddingInner": 0, "paddingOuter": 0}, "axis": null},
      "y": {"field": "r", "type": "ordinal", "scale": {"paddingInner": 0, "paddingOuter": 0}, "axis": null},
      "color": {"field": "v", "type": "quantitative", "scale": {"domain": [-3,0,3], "range": ["#3a00ff","#ffffff","#ff0000"], "clamp": true, "interpolate": "rgb"}, "legend": null},
      "stroke": {"field": "v", "type": "quantitative", "scale": {"domain": [-3,0,3], "range": ["#3a00ff","#ffffff","#ff0000"], "clamp": true, "interpolate": "rgb"}, "legend": null}}},
    {"width": 397, "height": 25, "data": {"name": "ttB"},
     "layer": [
      {"data": {"values": [{"top": 3}]}, "mark": {"type": "rule", "color": "#cccccc", "strokeWidth": 1},
       "encoding": {"y": {"field": "top", "type": "quantitative", "scale": {"domain": [-3,3]}, "axis": {"orient": "left", "domain": false, "ticks": false, "labels": false, "grid": false, "title": "-test", "titleFontWeight": "normal", "titleFontSize": 14, "titleAngle": 0, "titleAlign": "left", "titleBaseline": "alphabetic", "titleX": -28.2, "titleY": -5.5, "titleColor": "black"}}}},
      {"mark": "bar",
       "encoding": {
        "x": {"field": "m", "type": "nominal", "scale": {"domain": ["mir-21","mir-98","mir-126","mir-let7i","mir-let7d","mir-let7b","mir-let7f","mir-let7c","mir-let7a","mir-29c","mir-let7e","mir-145","mir-215"], "paddingInner": 0, "paddingOuter": 0},
         "axis": {"title": null, "labelAngle": -90, "labelAlign": "right", "labelBaseline": "middle", "labelFontSize": 14, "labelColor": "black", "labelPadding": 10, "ticks": false, "tickSize": 0, "domainColor": "#bbbbbb", "domainWidth": 1, "labelLimit": 200,
          "labelFontWeight": {"condition": {"test": "indexof(['mir-let7d','mir-let7f','mir-let7e'], datum.value) >= 0", "value": "normal"}, "value": "bold"}}},
        "y": {"field": "t", "type": "quantitative", "scale": {"domain": [-3,3]},
         "axis": {"orient": "left", "values": [3, 0, -3], "labelExpr": "datum.value == 3 ? '3.0' : datum.value == -3 ? '-3.0' : ''", "labelOverlap": false, "tickSize": 7, "tickWidth": 1.5, "tickColor": "black", "domainColor": "black", "domainWidth": 1.5, "labelFontSize": 12, "labelPadding": 4, "labelColor": "#111111", "labelOffset": 2.5, "labelFlush": false, "labelBaseline": "middle", "title": "t", "titleFontStyle": "italic", "titleFontWeight": "normal", "titleFontSize": 14, "titleAngle": 0, "titleAlign": "left", "titleBaseline": "alphabetic", "titleX": -32.5, "titleY": -5.5, "titleColor": "black"}},
        "y2": {"datum": 0},
        "color": {"condition": [{"test": "datum.t >= 1", "value": "#ff0000"}, {"test": "datum.t <= -1", "value": "#138b13"}], "value": "#999999"}}}
     ],
     "resolve": {"scale": {"y": "independent"}, "axis": {"y": "independent"}}}
   ]},
   {"width": 24, "height": 173, "data": {"values": [{"g": "Primary tumor", "n": "n=8402"}, {"g": "Normal", "n": "n=635"}]},
    "layer": [
     {"mark": "rect", "encoding": {"y": {"field": "g", "type": "nominal", "scale": {"domain": ["Primary tumor","Normal"], "paddingInner": 0, "paddingOuter": 0}, "axis": {"orient": "right", "title": null, "ticks": false, "domain": false, "labelAngle": -90, "labelAlign": "center", "labelBaseline": "top", "labelFontSize": 14, "labelPadding": 7, "labelColor": "black"}}, "color": {"condition": {"test": "datum.g == 'Normal'", "value": "#f5a9cc"}, "value": "#1f77b4"}}},
     {"mark": {"type": "text", "angle": -90, "fontSize": 13.5}, "encoding": {"y": {"field": "g", "type": "nominal"}, "text": {"field": "n"}, "color": {"condition": {"test": "datum.g == 'Normal'", "value": "#222222"}, "value": "white"}}}
    ]}
  ]}
 ]}
]},
{"columns": 3, "bounds": "flush", "align": "each", "spacing": 0, "concat": [
 {"width": 79, "height": 157, "data": {"values": []}, "mark": "rect"},
 {"width": 53, "height": 157, "data": {"values": []}, "mark": "rect"},
 {"width": 108, "height": 157, "data": {"values": []}, "mark": "rect"},
 {"width": 79, "height": 36, "title": {"text": "C", "anchor": "start", "dx": -28, "offset": 1.7, "fontSize": 19, "fontWeight": "bold", "baseline": "alphabetic"}, "view": {"stroke": "#222222", "strokeWidth": 1.3}, "data": {"name": "tbl"}, "transform": [{"filter": "datum.r == 'h' && datum.c == 'P'"}], "mark": {"type": "text", "fontSize": 12.5, "fontWeight": "bold", "lineHeight": 15.5}, "encoding": {"text": {"field": "t"}}},
 {"width": 53, "height": 36, "view": {"stroke": "#222222", "strokeWidth": 1.3}, "data": {"name": "tbl"}, "transform": [{"filter": "datum.r == 'h' && datum.c == 'V'"}], "mark": {"type": "text", "fontSize": 12.5, "fontWeight": "bold", "lineHeight": 15.5}, "encoding": {"text": {"field": "t"}}},
 {"width": 108, "height": 36, "view": {"stroke": "#222222", "strokeWidth": 1.3}, "data": {"name": "tbl"}, "transform": [{"filter": "datum.r == 'h' && datum.c == 'G'"}], "mark": {"type": "text", "fontSize": 12.5, "fontWeight": "bold", "lineHeight": 15.5}, "encoding": {"text": {"field": "t"}}},
 {"width": 79, "height": 94, "view": {"stroke": "#222222", "strokeWidth": 1.3}, "data": {"name": "tbl"}, "transform": [{"filter": "datum.r == 'MAPK' && datum.c == 'P'"}], "mark": {"type": "text", "fontSize": 12.5, "lineHeight": 15.5, "dy": -7.75}, "encoding": {"text": {"field": "t"}}},
 {"width": 53, "height": 94, "view": {"stroke": "#222222", "strokeWidth": 1.3}, "data": {"name": "tbl"}, "transform": [{"filter": "datum.r == 'MAPK' && datum.c == 'V'"}], "mark": {"type": "text", "fontSize": 12.5, "lineHeight": 15.5}, "encoding": {"text": {"field": "t"}}},
 {"width": 108, "height": 94, "view": {"stroke": "#222222", "strokeWidth": 1.3}, "data": {"name": "tbl"}, "transform": [{"filter": "datum.r == 'MAPK' && datum.c == 'G'"}], "mark": {"type": "text", "fontSize": 12.5, "fontStyle": "italic", "lineHeight": 15.5, "dy": -38.75}, "encoding": {"text": {"field": "t"}}},
 {"width": 79, "height": 47, "view": {"stroke": "#222222", "strokeWidth": 1.3}, "data": {"name": "tbl"}, "transform": [{"filter": "datum.r == 'Endo' && datum.c == 'P'"}], "mark": {"type": "text", "fontSize": 12.5, "lineHeight": 15.5}, "encoding": {"text": {"field": "t"}}},
 {"width": 53, "height": 47, "view": {"stroke": "#222222", "strokeWidth": 1.3}, "data": {"name": "tbl"}, "transform": [{"filter": "datum.r == 'Endo' && datum.c == 'V'"}], "mark": {"type": "text", "fontSize": 12.5, "lineHeight": 15.5}, "encoding": {"text": {"field": "t"}}},
 {"width": 108, "height": 47, "view": {"stroke": "#222222", "strokeWidth": 1.3}, "data": {"name": "tbl"}, "transform": [{"filter": "datum.r == 'Endo' && datum.c == 'G'"}], "mark": {"type": "text", "fontSize": 12.5, "fontStyle": "italic", "lineHeight": 15.5, "dy": -15.5}, "encoding": {"text": {"field": "t"}}},
 {"width": 79, "height": 35, "view": {"stroke": "#222222", "strokeWidth": 1.3}, "data": {"name": "tbl"}, "transform": [{"filter": "datum.r == 'Colo' && datum.c == 'P'"}], "mark": {"type": "text", "fontSize": 12.5, "lineHeight": 15.5, "dy": -7.75}, "encoding": {"text": {"field": "t"}}},
 {"width": 53, "height": 35, "view": {"stroke": "#222222", "strokeWidth": 1.3}, "data": {"name": "tbl"}, "transform": [{"filter": "datum.r == 'Colo' && datum.c == 'V'"}], "mark": {"type": "text", "fontSize": 12.5, "lineHeight": 15.5}, "encoding": {"text": {"field": "t"}}},
 {"width": 108, "height": 35, "view": {"stroke": "#222222", "strokeWidth": 1.3}, "data": {"name": "tbl"}, "transform": [{"filter": "datum.r == 'Colo' && datum.c == 'G'"}], "mark": {"type": "text", "fontSize": 12.5, "fontStyle": "italic", "lineHeight": 15.5, "dy": -7.75}, "encoding": {"text": {"field": "t"}}},
 {"width": 79, "height": 33, "view": {"stroke": "#222222", "strokeWidth": 1.3}, "data": {"name": "tbl"}, "transform": [{"filter": "datum.r == 'Apop' && datum.c == 'P'"}], "mark": {"type": "text", "fontSize": 12.5, "lineHeight": 15.5}, "encoding": {"text": {"field": "t"}}},
 {"width": 53, "height": 33, "view": {"stroke": "#222222", "strokeWidth": 1.3}, "data": {"name": "tbl"}, "transform": [{"filter": "datum.r == 'Apop' && datum.c == 'V'"}], "mark": {"type": "text", "fontSize": 12.5, "lineHeight": 15.5}, "encoding": {"text": {"field": "t"}}},
 {"width": 108, "height": 33, "view": {"stroke": "#222222", "strokeWidth": 1.3}, "data": {"name": "tbl"}, "transform": [{"filter": "datum.r == 'Apop' && datum.c == 'G'"}], "mark": {"type": "text", "fontSize": 12.5, "fontStyle": "italic", "lineHeight": 15.5, "dy": -7.75}, "encoding": {"text": {"field": "t"}}},
 {"width": 79, "height": 47, "view": {"stroke": "#222222", "strokeWidth": 1.3}, "data": {"name": "tbl"}, "transform": [{"filter": "datum.r == 'Wnt' && datum.c == 'P'"}], "mark": {"type": "text", "fontSize": 12.5, "lineHeight": 15.5, "dy": -7.75}, "encoding": {"text": {"field": "t"}}},
 {"width": 53, "height": 47, "view": {"stroke": "#222222", "strokeWidth": 1.3}, "data": {"name": "tbl"}, "transform": [{"filter": "datum.r == 'Wnt' && datum.c == 'V'"}], "mark": {"type": "text", "fontSize": 12.5, "lineHeight": 15.5}, "encoding": {"text": {"field": "t"}}},
 {"width": 108, "height": 47, "view": {"stroke": "#222222", "strokeWidth": 1.3}, "data": {"name": "tbl"}, "transform": [{"filter": "datum.r == 'Wnt' && datum.c == 'G'"}], "mark": {"type": "text", "fontSize": 12.5, "fontStyle": "italic", "lineHeight": 15.5, "dy": -15.5}, "encoding": {"text": {"field": "t"}}}
]}
]
}
